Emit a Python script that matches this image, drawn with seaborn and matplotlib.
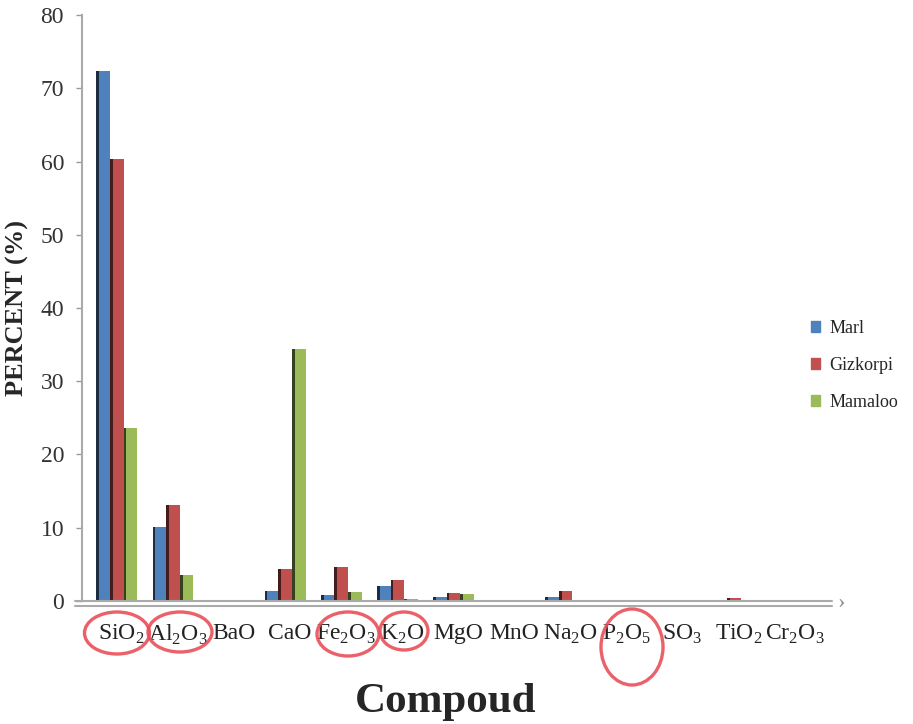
import matplotlib
matplotlib.use("Agg")
import matplotlib.pyplot as plt
from matplotlib.patches import Ellipse, Rectangle
from matplotlib.lines import Line2D
import matplotlib.colors as mcolors
import seaborn as sns
import pandas as pd

# Oxide composition (%) of the three samples
compounds = ["SiO$_\\mathregular{2}$", "Al$_\\mathregular{2}$O$_\\mathregular{3}$", "BaO", "CaO",
             "Fe$_\\mathregular{2}$O$_\\mathregular{3}$", "K$_\\mathregular{2}$O", "MgO", "MnO",
             "Na$_\\mathregular{2}$O", "P$_\\mathregular{2}$O$_\\mathregular{5}$", "SO$_\\mathregular{3}$",
             "TiO$_\\mathregular{2}$", "Cr$_\\mathregular{2}$O$_\\mathregular{3}$"]
series = ["Marl", "Gizkorpi", "Mamaloo"]
marl = [72.4, 10.1, 0.05, 1.4, 0.8, 2.0, 0.5, 0.05, 0.6, 0.05, 0.05, 0.1, 0.05]
gizkorpi = [60.3, 13.1, 0.05, 4.3, 4.7, 2.8, 1.1, 0.05, 1.3, 0.05, 0.05, 0.4, 0.05]
mamaloo = [23.6, 3.6, 0.05, 34.4, 1.2, 0.3, 1.0, 0.05, 0.1, 0.05, 0.1, 0.1, 0.05]
colors = ["#4F81BD", "#C0504D", "#9BBB59"]

rows = []
for name, vals in zip(series, [marl, gizkorpi, mamaloo]):
    for c, v in zip(compounds, vals):
        rows.append({"Compound": c, "Sample": name, "Percent": v})
df = pd.DataFrame(rows)

sns.set_theme(style="white")
plt.rcParams["font.family"] = ["Liberation Serif", "DejaVu Serif"]
plt.rcParams["mathtext.fontset"] = "custom"
plt.rcParams["mathtext.rm"] = "Liberation Serif"

fig = plt.figure(figsize=(9.13, 7.24), dpi=100)
ax = fig.add_axes([0.090, 0.170, 0.817, 0.809])

sns.barplot(data=df, x="Compound", y="Percent", hue="Sample", order=compounds,
            hue_order=series, palette=colors, saturation=1, width=0.73, dodge=True,
            edgecolor="none", legend=False, ax=ax)

# darker side strip on each bar for a bevelled look
for p in list(ax.patches):
    fc = mcolors.to_rgb(p.get_facecolor())
    dark = tuple(c * 0.35 for c in fc)
    ax.add_patch(Rectangle((p.get_x(), p.get_y()), p.get_width() * 0.2, p.get_height(),
                           facecolor=dark, edgecolor="none", zorder=p.get_zorder() + 0.1))

ax.set_xlim(-0.62, 12.68)
ax.set_ylim(0, 80)
ax.set_yticks(range(0, 81, 10))
# category labels sit slightly to the right of their bar groups
ax.set_xticks([k + 0.08 for k in range(len(compounds))])
ax.set_xticklabels(compounds)
ax.tick_params(axis="y", which="major", left=True, length=4, width=1, color="#999999",
               labelsize=17, pad=9, labelcolor="#333333")
ax.tick_params(axis="x", bottom=False, labelsize=17, pad=10, labelcolor="#222222")

for s in ["top", "right"]:
    ax.spines[s].set_visible(False)
ax.spines["left"].set_color("#aaaaaa")
ax.spines["left"].set_linewidth(1.5)
ax.spines["bottom"].set_visible(False)

# floor of the chart: double grey line with a small arrow tip
for yy in [0.0, -0.75]:
    ax.add_line(Line2D([-0.75, 12.75], [yy, yy], color="#aaaaaa", lw=1.5, clip_on=False))
ax.text(12.85, -0.4, "\u203a", fontsize=16, color="#888888", ha="left", va="center",
        clip_on=False)

ax.set_xlabel("Compoud", fontsize=31, fontweight="bold")
ax.xaxis.set_label_coords(0.487, -0.14)
ax.set_ylabel("PERCENT (%)", fontsize=19, fontweight="bold", labelpad=8)

# red circles drawn around selected compounds
circles = [(117, 633, 65, 42), (180, 632, 64, 40), (348, 634, 62, 44),
           (404, 631, 48, 38), (632, 647, 62, 76)]
for cx, cy, w, h in circles:
    e = Ellipse((cx / 913, 1 - cy / 724), w / 913, h / 724, transform=fig.transFigure,
                fill=False, edgecolor="#e8505a", lw=2.4, alpha=0.9)
    fig.add_artist(e)

handles = [plt.Rectangle((0, 0), 1, 1, color=c) for c in colors]
fig.legend(handles, series, loc="center left", bbox_to_anchor=(0.87, 0.495),
           frameon=False, fontsize=13, handlelength=0.55, handleheight=0.55,
           handletextpad=0.5, labelspacing=1.1)

fig.savefig("out.png", dpi=100)
